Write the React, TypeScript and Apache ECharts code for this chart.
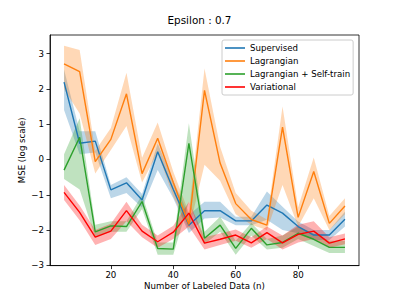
import React, { useEffect, useRef } from "react";
import * as echarts from "echarts";

const xs = [5, 10, 15, 20, 25, 30, 35, 40, 45, 50, 55, 60, 65, 70, 75, 80, 85, 90, 95];
const xTicks = [20, 40, 60, 80];
const yTicks = [-3, -2, -1, 0, 1, 2, 3];

const supervised = [2.19, 0.46, 0.52, -0.86, -0.66, -1.15, 0.22, -0.85, -1.86, -1.45, -1.45, -1.74, -1.74, -1.29, -1.52, -1.9, -2.14, -2.14, -1.69];
const supervisedLo = [1.4, 0.15, 0.2, -1.1, -0.95, -1.37, -0.3, -1.1, -2.08, -1.67, -1.64, -1.86, -1.86, -1.71, -2.0, -2.09, -2.28, -2.28, -1.9];
const supervisedHi = [2.55, 0.8, 0.8, -0.72, -0.5, -0.98, 0.45, -0.6, -1.57, -1.2, -1.2, -1.62, -1.62, -0.91, -1.34, -1.76, -2.0, -2.0, -1.48];

const lagrangian = [2.71, 2.49, -0.06, 0.57, 1.86, -0.4, 0.6, -0.65, -1.84, 1.96, -0.1, -1.25, -1.7, -1.86, 0.92, -1.64, -0.34, -1.81, -1.32];
const lagrangianLo = [2.0, 1.3, -0.4, 0.27, 0.95, -0.65, 0.2, -1.05, -2.0, -0.15, -0.6, -1.55, -1.85, -2.0, -0.72, -1.9, -1.1, -2.0, -1.55];
const lagrangianHi = [3.22, 3.1, 0.25, 0.89, 2.46, 0.05, 1.05, -0.35, -1.5, 2.58, 0.36, -0.95, -1.45, -1.7, 1.5, -1.35, 0.06, -1.6, -1.1];

const selfTrain = [-0.3, 0.63, -2.05, -1.88, -1.9, -1.19, -2.52, -2.54, 0.46, -2.23, -1.86, -2.52, -1.95, -2.42, -2.35, -2.09, -2.26, -2.49, -2.49];
const selfTrainLo = [-0.55, -0.85, -2.2, -2.05, -2.05, -1.4, -2.7, -2.7, -1.2, -2.4, -2.05, -2.7, -2.15, -2.55, -2.5, -2.25, -2.45, -2.65, -2.65];
const selfTrainHi = [0.15, 1.17, -1.85, -1.75, -1.75, -1.0, -2.35, -2.35, 1.03, -2.05, -1.62, -2.3, -1.8, -2.25, -2.15, -1.9, -2.1, -2.3, -2.3];

const variational = [-0.93, -1.5, -2.2, -2.03, -1.45, -2.03, -2.33, -2.06, -1.52, -2.37, -2.26, -2.14, -2.36, -2.07, -2.36, -2.12, -2.03, -2.37, -2.25];
const variationalLo = [-1.15, -1.72, -2.42, -2.25, -1.75, -2.2, -2.5, -2.25, -1.9, -2.55, -2.42, -2.3, -2.5, -2.25, -2.55, -2.35, -2.25, -2.5, -2.4];
const variationalHi = [-0.72, -1.3, -2.0, -1.82, -1.2, -1.85, -2.15, -1.88, -1.2, -2.2, -2.1, -1.98, -2.2, -1.9, -2.15, -1.85, -1.75, -2.2, -2.1];

const seriesDefs = [
  { name: "Supervised", mean: supervised, lo: supervisedLo, hi: supervisedHi, color: "#1f77b4" },
  { name: "Lagrangian", mean: lagrangian, lo: lagrangianLo, hi: lagrangianHi, color: "#ff7f0e" },
  { name: "Lagrangian + Self-train", mean: selfTrain, lo: selfTrainLo, hi: selfTrainHi, color: "#2ca02c" },
  { name: "Variational", mean: variational, lo: variationalLo, hi: variationalHi, color: "#ff0000" },
];

const FONT = "DejaVu Sans";

export default function App() {
  const ref = useRef<HTMLDivElement>(null);
  useEffect(() => {
    if (!ref.current) return;
    const chart = echarts.init(ref.current, null, { renderer: "svg" });
    const bands = seriesDefs.map((s) => ({
      type: "custom",
      name: s.name + " band",
      silent: true,
      z: 1,
      clip: true,
      data: xs.map((x, i) => [x, s.lo[i], s.hi[i]]),
      encode: { x: 0, y: [1, 2] },
      renderItem: (params: any, api: any) => {
        if (params.dataIndex !== 0) return null;
        const pts: number[][] = [];
        for (let i = 0; i < xs.length; i++) pts.push(api.coord([xs[i], s.hi[i]]));
        for (let i = xs.length - 1; i >= 0; i--) pts.push(api.coord([xs[i], s.lo[i]]));
        return {
          type: "polygon",
          shape: { points: pts },
          style: { fill: s.color, opacity: 0.3, stroke: "none" },
        };
      },
    }));
    const lines = seriesDefs.map((s) => ({
      type: "line",
      name: s.name,
      z: 3,
      showSymbol: false,
      symbol: "none",
      data: xs.map((x, i) => [x, s.mean[i]]),
      lineStyle: { color: s.color, width: 1.4 },
      itemStyle: { color: s.color },
    }));
    chart.setOption({
      animation: false,
      backgroundColor: "#ffffff",
      title: {
        text: "Epsilon : 0.7",
        left: "center",
        top: 14.5,
        padding: 0,
        textStyle: { fontFamily: FONT, fontSize: 10.4, fontWeight: "normal", color: "#000" },
      },
      legend: {
        data: seriesDefs.map((s) => s.name),
        orient: "vertical",
        left: 222,
        top: 40,
        padding: [3, 3, 3, 3],
        itemGap: 3,
        itemWidth: 20,
        itemHeight: 1.6,
        icon: "rect",
        backgroundColor: "rgba(255,255,255,0.8)",
        borderColor: "#cccccc",
        borderWidth: 1,
        borderRadius: 2,
        textStyle: { fontFamily: FONT, fontSize: 8.65, color: "#000", lineHeight: 10 },
      },
      grid: {
        left: 50,
        right: 40,
        top: 35,
        bottom: 33.4,
        show: true,
        borderColor: "#000",
        borderWidth: 0.8,
        backgroundColor: "transparent",
      },
      xAxis: {
        type: "value",
        min: 0.5,
        max: 99.5,
        name: "Number of Labeled Data (n)",
        nameLocation: "middle",
        nameGap: 16,
        nameMoveOverlap: false,
        nameTextStyle: { fontFamily: FONT, fontSize: 8.65, color: "#000" },
        axisLine: { show: true, onZero: false, lineStyle: { color: "#000", width: 0.8 } },
        axisTick: { show: true, length: 3.5, lineStyle: { color: "#000", width: 0.8 }, customValues: xTicks },
        axisLabel: { fontFamily: FONT, fontSize: 8.65, color: "#000", margin: 5, customValues: xTicks },
        splitLine: { show: false },
      },
      yAxis: {
        type: "value",
        min: -3.006,
        max: 3.527,
        name: "MSE (log scale)",
        nameLocation: "middle",
        nameGap: 24,
        nameMoveOverlap: false,
        nameTextStyle: { fontFamily: FONT, fontSize: 8.65, color: "#000" },
        axisLine: { show: true, onZero: false, lineStyle: { color: "#000", width: 0.8 } },
        axisTick: { show: true, length: 3.5, lineStyle: { color: "#000", width: 0.8 }, customValues: yTicks },
        axisLabel: {
          fontFamily: FONT,
          fontSize: 8.65,
          color: "#000",
          margin: 6,
          customValues: yTicks,
          formatter: (v: number) => String(v).replace("-", "\u2212"),
        },
        splitLine: { show: false },
      },
      series: [...bands, ...lines],
    });
    return () => chart.dispose();
  }, []);
  return (
    <div
      ref={ref}
      style={{ position: "absolute", left: 0, top: 0, width: 399, height: 299 }}
    />
  );
}
